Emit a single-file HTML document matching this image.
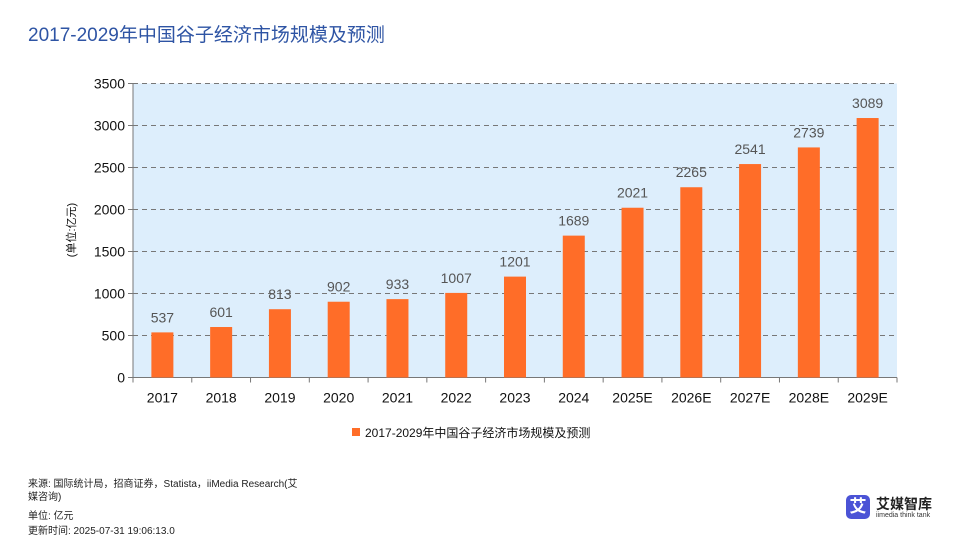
<!DOCTYPE html>
<html><head><meta charset="utf-8"><style>
body{margin:0;width:960px;height:540px;background:#fff;font-family:"Liberation Sans","Noto Sans CJK SC",sans-serif;position:relative;overflow:hidden}
.t{position:absolute}
</style></head><body>
<div class="t" style="left:28px;top:20px;font-size:19px;color:#2e54a4">2017-2029年中国谷子经济市场规模及预测</div>
<svg id="c" width="960" height="540" style="position:absolute;left:0;top:0"></svg>
<div class="t" style="left:28px;top:478px;font-size:10px;line-height:13px;color:#222;width:300px">来源: 国际统计局，招商证券，Statista，iiMedia Research(艾<br>媒咨询)</div>
<div class="t" style="left:28px;top:507px;font-size:10px;color:#222">单位: 亿元</div>
<div class="t" style="left:28px;top:522px;font-size:10px;color:#222">更新时间: 2025-07-31 19:06:13.0</div>
<div class="t" style="left:846px;top:495px;width:24px;height:24px;background:#4b53d6;border-radius:5px;color:#fff;font-size:17px;text-align:center;line-height:24px;font-weight:bold">艾</div>
<div class="t" style="left:876px;top:494px;font-size:14px;font-weight:bold;color:#222">艾媒智库</div>
<div class="t" style="left:876px;top:512px;font-size:7px;color:#333">iimedia think tank</div>
<script>
const categories=["2017","2018","2019","2020","2021","2022","2023","2024","2025E","2026E","2027E","2028E","2029E"];
const values=[537,601,813,902,933,1007,1201,1689,2021,2265,2541,2739,3089];
const ticks=[0,500,1000,1500,2000,2500,3000,3500];
const NS="http://www.w3.org/2000/svg",svg=document.getElementById('c');
const L=133,R=897,T=83.5,B=377.5,max=3500;
const y=v=>B-(v/max)*(B-T);
const bw=(R-L)/categories.length;
const x=i=>L+bw*(i+0.5);
function mk(t,a,txt){const e=document.createElementNS(NS,t);for(const k in a)e.setAttribute(k,a[k]);if(txt!==undefined)e.textContent=txt;svg.appendChild(e);return e;}
let bg=mk('rect',{x:L,y:T,width:R-L,height:B-T,fill:'#ddeefc'});


ticks.forEach(v=>{
 if(v>0){let g=mk('line',{x1:L,x2:R,y1:y(v),y2:y(v),stroke:'#777','stroke-dasharray':'5,4','stroke-width':1});
 
 }
 mk('line',{x1:L-5,x2:L,y1:y(v),y2:y(v),stroke:'#777'});
 let t=mk('text',{x:L-8,y:y(v)+5,'text-anchor':'end','font-size':14,fill:'#111'},v);
 
 
});
mk('line',{x1:L,x2:L,y1:T,y2:B,stroke:'#777'});
mk('line',{x1:L,x2:R,y1:B,y2:B,stroke:'#777'});
for(let i=0;i<=categories.length;i++)mk('line',{x1:L+bw*i,x2:L+bw*i,y1:B,y2:B+5,stroke:'#777'});
categories.forEach((c,i)=>{
 let b=mk('rect',{x:x(i)-11,y:y(values[i]),width:22,height:B-y(values[i]),fill:'#ff6d28'});
 
 
 let l=mk('text',{x:x(i),y:y(values[i])-10,'text-anchor':'middle','font-size':14,fill:'#555'},values[i]);
 
 
 let t=mk('text',{x:x(i),y:B+25,'text-anchor':'middle','font-size':14,fill:'#111'},c);
 
 
});
let yt=mk('text',{x:0,y:0,transform:'translate(75,230) rotate(-90)','text-anchor':'middle','font-size':11,fill:'#111'},'(单位:亿元)');


let ls=mk('rect',{x:352,y:428,width:8,height:8,fill:'#ff6d28'});


let lt=mk('text',{x:365,y:437,'font-size':12,fill:'#111'},'2017-2029年中国谷子经济市场规模及预测');


</script>
</body></html>
